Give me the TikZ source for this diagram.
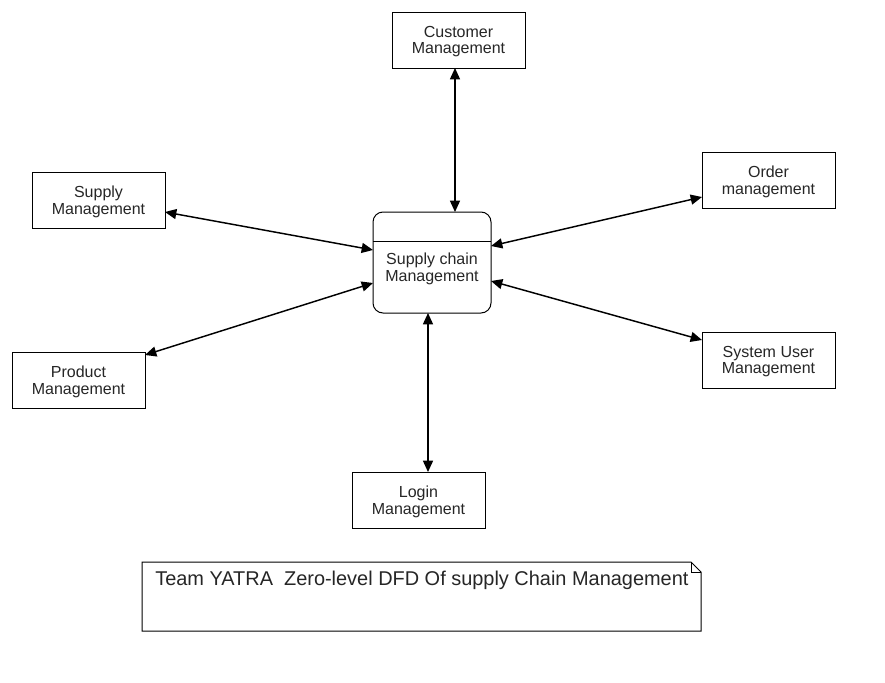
\documentclass[tikz,border=0pt]{standalone}
\usepackage{fontspec}
\setmainfont{Liberation Sans}
\usetikzlibrary{arrows.meta,calc}
\begin{document}
\begin{tikzpicture}[x=0.75pt,y=-0.75pt,
  ent/.style={draw=black,line width=0.75pt,fill=white,rectangle,inner sep=0pt,
    minimum width=99.75pt,minimum height=42pt,align=center,
    font=\fontsize{12pt}{12.6pt}\selectfont,text=black!85},
  enttext/.style={font=\fontsize{12pt}{12.6pt}\selectfont,text=black!85,align=center,inner sep=0pt},
  flow/.style={line width=1.1pt,{Triangle[length=8.5pt,width=7.5pt]}-{Triangle[length=8.5pt,width=7.5pt]}}]
\useasboundingbox (0,0) rectangle (885,682);
\fill[white] (0,0) rectangle (885,682);
% external entities
\node[ent] (cust) at (458.5,40) {};
\node[ent] (sup) at (98.5,200) {};
\node[ent] (ord) at (768.5,180) {};
\node[ent] (prod) at (78.5,380) {};
\node[ent] (sys) at (768.5,360) {};
\node[ent] (login) at (418.5,500) {};
\node[enttext] (custt) at (458.5,41.5) {Customer\\Management};
\node[enttext] (supt) at (98.5,201.5) {Supply\\Management};
\node[enttext] (ordt) at (768.5,181.5) {Order\\management};
\node[enttext] (prodt) at (78.5,381.5) {Product\\Management};
\node[enttext] (syst) at (768.5,361.5) {System User\\Management};
\node[enttext] (logint) at (418.5,501.5) {Login\\Management};
% central process
\node[draw=black,line width=0.75pt,rounded corners=7.5pt,fill=white,inner sep=0pt,
  minimum width=88.5pt,minimum height=75.75pt] (c) at (432,262.5) {};
\draw[line width=0.75pt] (373,241) -- (491,241);
\node[enttext] (ct) at (432,268.5) {Supply chain\\Management};
% coordinates on the borders
\coordinate (cT) at (455,212);
\coordinate (cB) at (428,313);
\coordinate (cL1) at (373,250);
\coordinate (cL2) at (373,283);
\coordinate (cR1) at (491,246);
\coordinate (cR2) at (491,281);
\coordinate (supE) at (165,212);
\coordinate (prodE) at (145,355);
\coordinate (ordW) at (702,197);
\coordinate (sysW) at (702,340);
\coordinate (custB) at (455,68);
\coordinate (loginT) at (428,472);
% flows
\draw[flow] (custB) -- (cT);
\draw[flow] (supE) -- (cL1);
\draw[flow] (prodE) -- (cL2);
\draw[flow] (ordW) -- (cR1);
\draw[flow] (sysW) -- (cR2);
\draw[flow] (cB) -- (loginT);
% note
\draw[line width=0.75pt,fill=white] (142,562) -- (691,562) -- (701,572) -- (701,631) -- (142,631) -- cycle;
\draw[line width=0.75pt] (691,562) -- (691,572) -- (701,572);
\node[anchor=base west,inner sep=0pt,font=\fontsize{14.95pt}{16pt}\selectfont,text=black!85] (title) at (155,585) {Team YATRA\ \ Zero-level DFD Of supply Chain Management};
\end{tikzpicture}
\end{document}
